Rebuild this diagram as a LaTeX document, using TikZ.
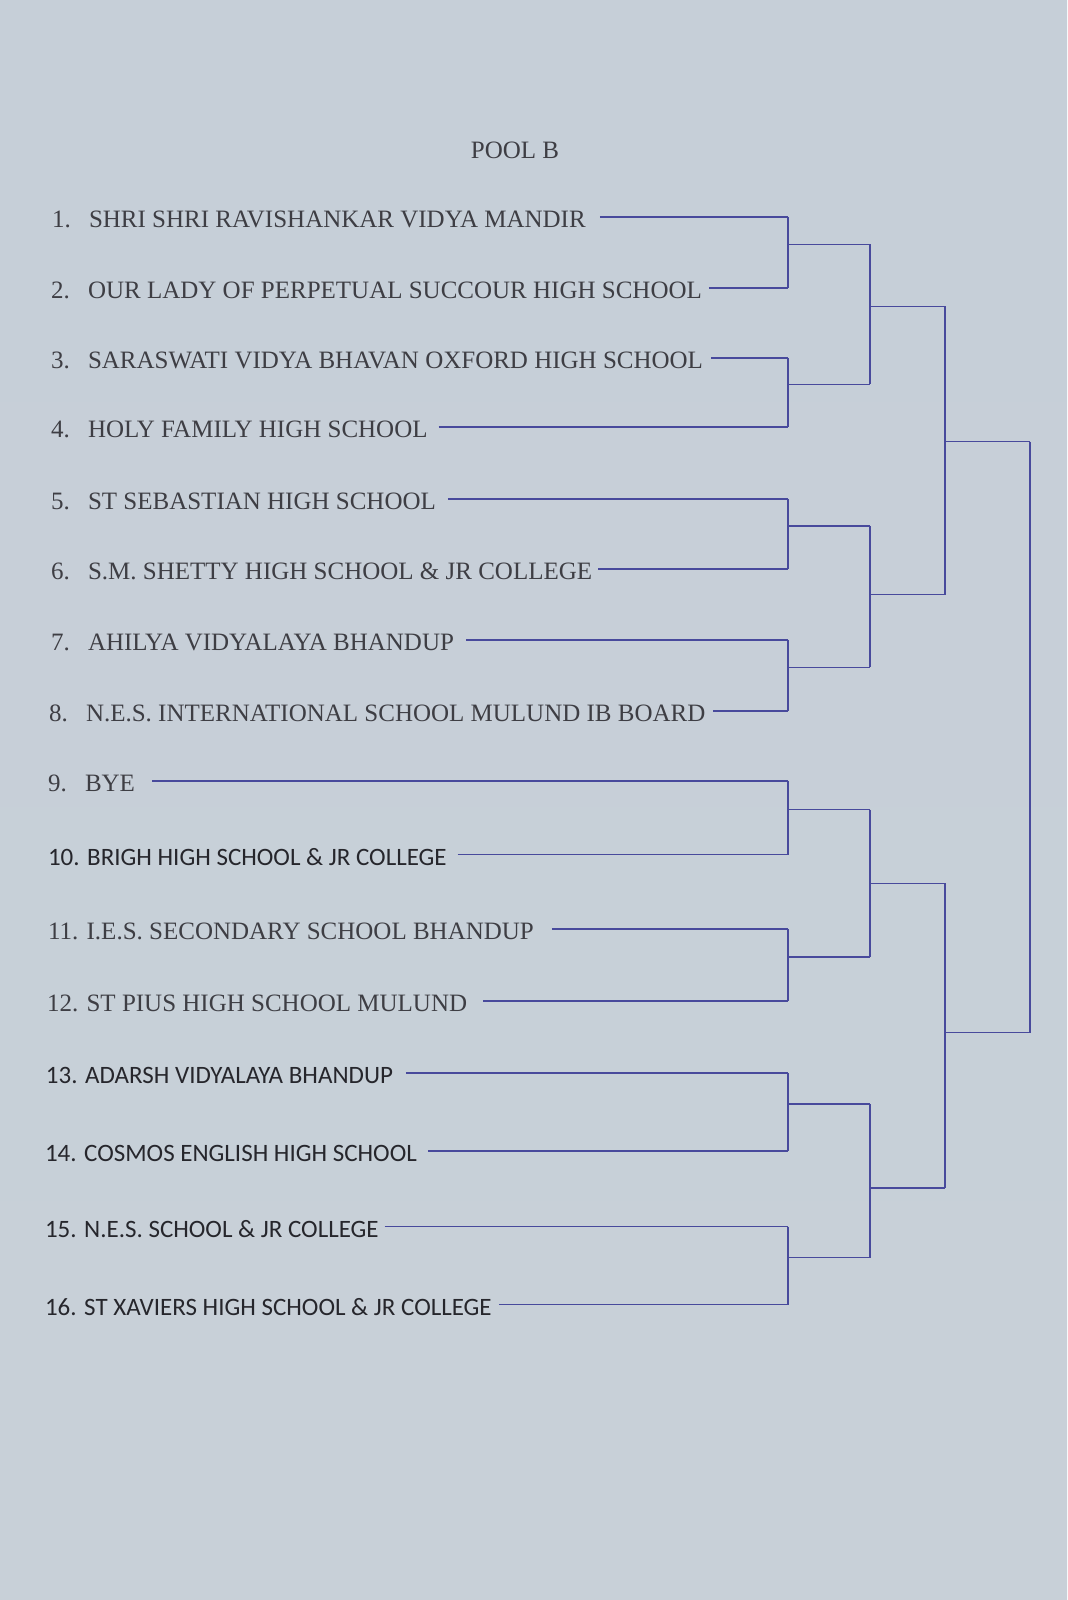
\documentclass[tikz,border=0pt]{standalone}
\usepackage{fontspec}
\setmainfont{Liberation Serif}
\newfontfamily\calfont{Carlito}
\usepackage{xcolor}
\usetikzlibrary{calc}
\definecolor{papertop}{RGB}{198,207,216}
\definecolor{papermid}{RGB}{210,218,226}
\definecolor{paperlow}{RGB}{200,208,216}
\definecolor{ink}{RGB}{72,74,156}
\definecolor{typegrey}{RGB}{62,62,68}
\definecolor{typedark}{RGB}{38,38,44}
\newcommand{\seed}[1]{\makebox[18.5pt][l]{#1}}

\begin{document}
\begin{tikzpicture}[
        x=0.5pt, y=-0.5pt,
        font=\fontsize{12.5}{15}\selectfont,
        team/.style={anchor=base west, inner sep=0pt, outer sep=0pt, text=typegrey},
        calteam/.style={team, font=\calfont\fontsize{12.5}{15}\selectfont, text=typedark},
        ink/.style={draw=ink, line width=0.75pt}
    ]
    % paper
    \shade[top color=papertop, middle color=papermid, bottom color=paperlow] (0,0) rectangle (1067,1600);
    \useasboundingbox (0,0) rectangle (1067,1600);

    \node[text=typegrey] (title) at (515,150) {POOL B};

    % Teams
    \node[team]    (t1)  at (52,227)  {\seed{1.}SHRI SHRI RAVISHANKAR VIDYA MANDIR};
    \node[team]    (t2)  at (51,298)  {\seed{2.}OUR LADY OF PERPETUAL SUCCOUR HIGH SCHOOL};
    \node[team]    (t3)  at (51,368)  {\seed{3.}SARASWATI VIDYA BHAVAN OXFORD HIGH SCHOOL};
    \node[team]    (t4)  at (51,437)  {\seed{4.}HOLY FAMILY HIGH SCHOOL};
    \node[team]    (t5)  at (51,509)  {\seed{5.}ST SEBASTIAN HIGH SCHOOL};
    \node[team]    (t6)  at (51,579)  {\seed{6.}S.M. SHETTY HIGH SCHOOL \& JR COLLEGE};
    \node[team]    (t7)  at (51,650)  {\seed{7.}AHILYA VIDYALAYA BHANDUP};
    \node[team]    (t8)  at (49,721)  {\seed{8.}N.E.S. INTERNATIONAL SCHOOL MULUND IB BOARD};
    \node[team]    (t9)  at (48,791)  {\seed{9.}BYE};
    \node[calteam] (t10) at (48,865)  {10. BRIGH HIGH SCHOOL \& JR COLLEGE};
    \node[team]    (t11) at (48,939)  {11. I.E.S. SECONDARY SCHOOL BHANDUP};
    \node[team]    (t12) at (47,1011) {12. ST PIUS HIGH SCHOOL MULUND};
    \node[calteam] (t13) at (46,1083) {13. ADARSH VIDYALAYA BHANDUP};
    \node[calteam] (t14) at (45,1161) {14. COSMOS ENGLISH HIGH SCHOOL};
    \node[calteam] (t15) at (45,1237) {15. N.E.S. SCHOOL \& JR COLLEGE};
    \node[calteam] (t16) at (45,1315) {16. ST XAVIERS HIGH SCHOOL \& JR COLLEGE};

    % Round columns (x positions)
    \coordinate (r1) at (788,0);
    \coordinate (r2) at (870,0);
    \coordinate (r3) at (945,0);
    \coordinate (r4) at (1030,0);

    % Entry lines
    \foreach \i/\g in {1/14, 2/7, 3/8, 4/11, 5/12, 6/6, 7/12, 8/8,
                       9/17, 10/11, 11/18, 12/16, 13/13, 14/11, 15/6, 16/7}
        \draw[ink] ($(t\i.east)+(\g,-2)$) coordinate (s\i) -- (s\i -| r1) coordinate (e\i);

    % Round 1
    \foreach \a/\b/\m in {1/2/1, 3/4/2, 5/6/3, 7/8/4, 9/10/5, 11/12/6, 13/14/7, 15/16/8} {
        \draw[ink] (e\a) -- (e\b);
        \coordinate (m\m) at ($(e\a)!.5!(e\b)+(0,-8)$);
        \draw[ink] (m\m) -- (m\m -| r2) coordinate (n\m);
    }

    % Round 2
    \foreach \a/\b/\m/\dy in {1/2/1/-8, 3/4/2/-2, 5/6/3/0, 7/8/4/7} {
        \draw[ink] (n\a) -- (n\b);
        \coordinate (p\m) at ($(n\a)!.5!(n\b)+(0,\dy)$);
        \draw[ink] (p\m) -- (p\m -| r3) coordinate (q\m);
    }

    % Round 3 and final
    \foreach \a/\b/\m/\dy in {1/2/1/-9, 3/4/2/-3} {
        \draw[ink] (q\a) -- (q\b);
        \coordinate (u\m) at ($(q\a)!.5!(q\b)+(0,\dy)$);
        \draw[ink] (u\m) -- (u\m -| r4) coordinate (z\m);
    }
    \draw[ink] (z1) -- (z2);
\end{tikzpicture}
\end{document}
